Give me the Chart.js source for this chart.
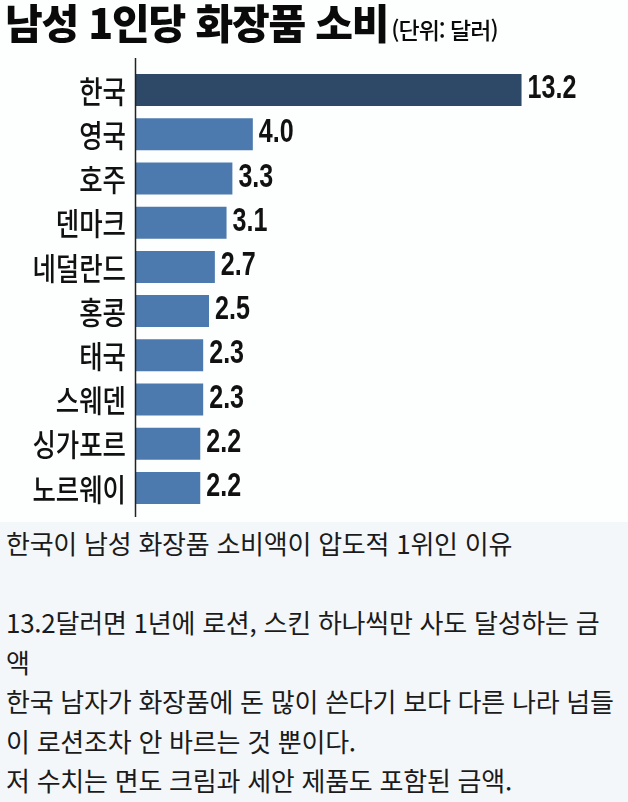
<!DOCTYPE html>
<html lang="ko">
<head>
<meta charset="utf-8">
<script src="https://cdn.jsdelivr.net/npm/chart.js@4"></script>
<style>
  html, body { margin: 0; padding: 0; width: 628px; height: 802px; overflow: hidden; background: #f4f7fa; }
  #chartBox { position: absolute; left: 0; top: 0; width: 628px; height: 522px; background: #fdfefe; }
  #title { position: absolute; left: 5px; top: -9px; white-space: nowrap; font-family: "Noto Sans CJK KR", sans-serif; color: #0a0a0a; }
  #title .main { font-size: 41px; font-weight: 900; letter-spacing: -1.2px; }
  #title .unit { font-size: 23px; font-weight: 500; letter-spacing: -1px; margin-left: 3px; }
  #chartWrap { position: absolute; left: 0; top: 0; width: 628px; height: 522px; }
  #notes { position: absolute; left: 6px; top: 523px; font-family: "Noto Sans CJK KR", sans-serif; font-size: 26px; line-height: 39.5px; color: #1b1b1b; white-space: nowrap; letter-spacing: -0.25px; }
</style>
</head>
<body>
<div id="chartBox"></div>
<div id="chartWrap"><canvas id="c" width="628" height="522"></canvas></div>
<div id="title"><span class="main">남성 1인당 화장품 소비</span><span class="unit">(단위: 달러)</span></div>
<div id="notes">한국이 남성 화장품 소비액이 압도적 1위인 이유<br><br>13.2달러면 1년에 로션, 스킨 하나씩만 사도 달성하는 금<br>액<br>한국 남자가 화장품에 돈 많이 쓴다기 보다 다른 나라 넘들<br>이 로션조차 안 바르는 것 뿐이다.<br>저 수치는 면도 크림과 세안 제품도 포함된 금액.</div>
<script>
const categories = ["한국", "영국", "호주", "덴마크", "네덜란드", "홍콩", "태국", "스웨덴", "싱가포르", "노르웨이"];
const values = [13.2, 4.0, 3.3, 3.1, 2.7, 2.5, 2.3, 2.3, 2.2, 2.2];
const valueLabels = ["13.2", "4.0", "3.3", "3.1", "2.7", "2.5", "2.3", "2.3", "2.2", "2.2"];

const axisLinePlugin = {
  id: 'axisLine',
  afterDatasetsDraw(chart) {
    const { ctx, chartArea } = chart;
    ctx.save();
    ctx.strokeStyle = '#222';
    ctx.lineWidth = 1.5;
    ctx.beginPath();
    ctx.moveTo(chartArea.left - 0.5, chartArea.top - 10);
    ctx.lineTo(chartArea.left - 0.5, chartArea.bottom + 7);
    ctx.stroke();
    ctx.restore();
  }
};

// category labels drawn through the y scale, horizontally condensed
const categoryLabelPlugin = {
  id: 'categoryLabels',
  afterDraw(chart) {
    const { ctx } = chart;
    const yScale = chart.scales.y;
    const right = chart.chartArea.left - 10;
    ctx.save();
    ctx.fillStyle = '#111';
    ctx.font = '500 31px "Noto Sans CJK KR", sans-serif';
    ctx.textAlign = 'right';
    ctx.textBaseline = 'middle';
    categories.forEach((lab, i) => {
      const y = yScale.getPixelForValue(i);
      ctx.save();
      ctx.translate(right, y + 1);
      ctx.scale(0.82, 1);
      ctx.fillText(lab, 0, 0);
      ctx.restore();
    });
    ctx.restore();
  }
};

const valueLabelPlugin = {
  id: 'valueLabels',
  afterDatasetsDraw(chart) {
    const { ctx } = chart;
    const meta = chart.getDatasetMeta(0);
    ctx.save();
    ctx.fillStyle = '#111';
    ctx.font = 'bold 33px "Liberation Sans", Arial, sans-serif';
    ctx.textAlign = 'left';
    ctx.textBaseline = 'middle';
    meta.data.forEach((bar, i) => {
      ctx.save();
      ctx.translate(bar.x + 6, bar.y - 1);
      ctx.scale(0.76, 1);
      ctx.fillText(valueLabels[i], 0, 0);
      ctx.restore();
    });
    ctx.restore();
  }
};

new Chart(document.getElementById('c'), {
  type: 'bar',
  data: {
    labels: categories,
    datasets: [{
      data: values,
      backgroundColor: (c) => c.dataIndex === 0 ? '#2d4967' : '#4c7aae',
      borderWidth: 0,
      categoryPercentage: 1.0,
      barPercentage: 0.725
    }]
  },
  options: {
    indexAxis: 'y',
    responsive: false,
    animation: false,
    layout: { padding: { top: 68, bottom: 12, left: 0, right: 13 } },
    plugins: { legend: { display: false }, tooltip: { enabled: false } },
    scales: {
      x: { display: false, min: 0, max: 16.4 },
      y: {
        border: { display: false },
        grid: { display: false, drawTicks: false },
        ticks: { display: false },
        afterFit(scale) { scale.width = 136; }
      }
    }
  },
  plugins: [axisLinePlugin, categoryLabelPlugin, valueLabelPlugin]
});
</script>
</body>
</html>
